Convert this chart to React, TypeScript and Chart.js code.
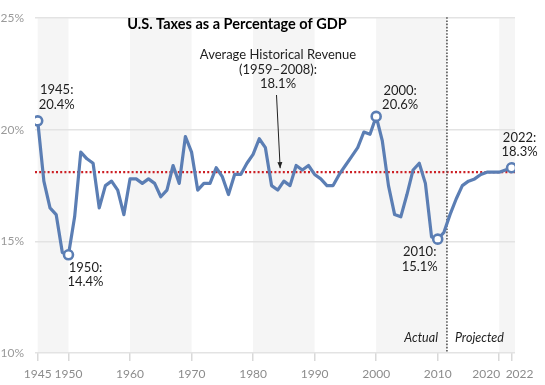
import React, { useEffect, useRef } from "react";
import { Chart, registerables } from "chart.js";

Chart.register(...registerables);

// ---- Data ----
const years = [
  1945, 1946, 1947, 1948, 1949, 1950, 1951, 1952, 1953, 1954,
  1955, 1956, 1957, 1958, 1959, 1960, 1961, 1962, 1963, 1964,
  1965, 1966, 1967, 1968, 1969, 1970, 1971, 1972, 1973, 1974,
  1975, 1976, 1977, 1978, 1979, 1980, 1981, 1982, 1983, 1984,
  1985, 1986, 1987, 1988, 1989, 1990, 1991, 1992, 1993, 1994,
  1995, 1996, 1997, 1998, 1999, 2000, 2001, 2002, 2003, 2004,
  2005, 2006, 2007, 2008, 2009, 2010, 2011, 2012, 2013, 2014,
  2015, 2016, 2017, 2018, 2019, 2020, 2021, 2022,
];
const taxPctOfGdp = [
  20.4, 17.7, 16.5, 16.2, 14.5, 14.4, 16.1, 19.0, 18.7, 18.5,
  16.5, 17.5, 17.7, 17.3, 16.2, 17.8, 17.8, 17.6, 17.8, 17.6,
  17.0, 17.3, 18.4, 17.6, 19.7, 19.0, 17.3, 17.6, 17.6, 18.3,
  17.9, 17.1, 18.0, 18.0, 18.5, 18.9, 19.6, 19.2, 17.5, 17.3,
  17.7, 17.5, 18.4, 18.2, 18.4, 18.0, 17.8, 17.5, 17.5, 18.0,
  18.4, 18.8, 19.2, 19.9, 19.8, 20.6, 19.5, 17.5, 16.2, 16.1,
  17.1, 18.2, 18.5, 17.6, 15.2, 15.1, 15.4, 16.2, 16.9, 17.5,
  17.7, 17.8, 18.0, 18.1, 18.1, 18.1, 18.2, 18.3,
];
const xTickYears = [1945, 1950, 1960, 1970, 1980, 1990, 2000, 2010, 2020, 2022];
const yTickValues = [10, 15, 20, 25];
const averageRevenue = 18.1;
const averageLabel = ["Average Historical Revenue", "(1959–2008):", "18.1%"];
const averageArrowYear = 1984.4;
const highlightYears = [1945, 1950, 2000, 2010, 2022];
const highlightLabels = [
  ["1945:", "20.4%"],
  ["1950:", "14.4%"],
  ["2000:", "20.6%"],
  ["2010:", "15.1%"],
  ["2022:", "18.3%"],
];
const shadedSpans = [
  [1945, 1950],
  [1960, 1970],
  [1980, 1990],
  [2000, 2011.5],
  [2020, 2023],
];
const projectionStartYear = 2011.5;
const titleText = "U.S. Taxes as a Percentage of GDP";
const actualText = "Actual";
const projectedText = "Projected";

// ---- Styles / positions ----
const LINE_COLOR = "#5b7eb4";
const RED = "#cc1f24";
const TEXT_DARK = "#1e1e1e";
const FONT = "Lato, 'Open Sans', sans-serif";
const labelOffsets = [
  [19, -31],
  [17, 13],
  [24, -26],
  [-18, 13],
  [8, -30],
];
// horizontal nudges of x tick labels (keeps 2020 / 2022 apart)
const xLabelNudge: Record<number, number> = { 2020: -13, 2022: 8 };

const decorPlugin = {
  id: "decor",
  beforeDraw(chart: any) {
    const { ctx, chartArea: a, scales } = chart;
    const x = scales.x;
    ctx.save();
    ctx.fillStyle = "#f5f5f5";
    for (const [s, e] of shadedSpans) {
      const x0 = Math.max(a.left, x.getPixelForValue(s));
      const x1 = Math.min(a.right, x.getPixelForValue(e));
      ctx.fillRect(x0, a.top, x1 - x0, a.bottom - a.top);
    }
    ctx.restore();
  },
  beforeDatasetsDraw(chart: any) {
    const { ctx, chartArea: a, scales } = chart;
    const x = scales.x;
    const y = scales.y;
    ctx.save();
    const ya = y.getPixelForValue(averageRevenue);
    ctx.strokeStyle = RED;
    ctx.lineWidth = 2.2;
    ctx.setLineDash([2, 2.2]);
    ctx.beginPath();
    ctx.moveTo(a.left, ya);
    ctx.lineTo(a.right, ya);
    ctx.stroke();
    const xp = x.getPixelForValue(projectionStartYear);
    ctx.strokeStyle = "#555";
    ctx.lineWidth = 1.6;
    ctx.setLineDash([1.6, 1.6]);
    ctx.beginPath();
    ctx.moveTo(xp, a.top - 1);
    ctx.lineTo(xp, a.bottom);
    ctx.stroke();
    ctx.restore();
  },
  afterDraw(chart: any) {
    const { ctx, chartArea: a, scales } = chart;
    const x = scales.x;
    const y = scales.y;
    ctx.save();
    ctx.textAlign = "center";
    ctx.textBaseline = "middle";

    // x tick labels
    ctx.fillStyle = "#8c8c8c";
    ctx.font = `12px ${FONT}`;
    xTickYears.forEach((yr) => {
      ctx.fillText(String(yr), x.getPixelForValue(yr) + (xLabelNudge[yr] || 0), a.bottom + 21);
    });

    // title
    ctx.fillStyle = "#000";
    ctx.font = `bold 14.5px ${FONT}`;
    ctx.fillText(titleText, 237, 24);

    // callouts
    ctx.font = `13px ${FONT}`;
    ctx.fillStyle = TEXT_DARK;
    highlightYears.forEach((yr, i) => {
      const idx = years.indexOf(yr);
      const px = x.getPixelForValue(yr);
      const py = y.getPixelForValue(taxPctOfGdp[idx]);
      const [dx, dy] = labelOffsets[i];
      highlightLabels[i].forEach((t, j) => {
        ctx.fillText(t, px + dx, py + dy + j * 14.5);
      });
    });

    // average label
    const cx = 278;
    averageLabel.forEach((t, j) => ctx.fillText(t, cx, 55 + j * 14.5));

    // arrow
    const tipX = x.getPixelForValue(averageArrowYear);
    const tipY = y.getPixelForValue(averageRevenue) - 4;
    const sx = 276.5;
    const sy = 95;
    ctx.strokeStyle = "#222";
    ctx.fillStyle = "#222";
    ctx.lineWidth = 1;
    ctx.beginPath();
    ctx.moveTo(sx, sy);
    ctx.lineTo(tipX, tipY);
    ctx.stroke();
    const ang = Math.atan2(tipY - sy, tipX - sx);
    const hl = 6;
    const hw = 2.5;
    ctx.beginPath();
    ctx.moveTo(tipX, tipY);
    ctx.lineTo(
      tipX - hl * Math.cos(ang) + hw * Math.sin(ang),
      tipY - hl * Math.sin(ang) - hw * Math.cos(ang)
    );
    ctx.lineTo(
      tipX - hl * Math.cos(ang) - hw * Math.sin(ang),
      tipY - hl * Math.sin(ang) + hw * Math.cos(ang)
    );
    ctx.closePath();
    ctx.fill();

    // actual / projected
    const xp = x.getPixelForValue(projectionStartYear);
    ctx.fillStyle = TEXT_DARK;
    ctx.font = `italic 12.5px ${FONT}`;
    ctx.textAlign = "right";
    ctx.fillText(actualText, xp - 9, a.bottom - 15);
    ctx.textAlign = "left";
    ctx.fillText(projectedText, xp + 8, a.bottom - 15);
    ctx.restore();
  },
};

export default function App() {
  const ref = useRef<HTMLCanvasElement>(null);
  useEffect(() => {
    document.body.style.margin = "0";
    const canvas = ref.current;
    if (!canvas) return;
    const chart = new Chart(canvas, {
      type: "line",
      data: {
        datasets: [
          {
            data: years.map((yr, i) => ({ x: yr, y: taxPctOfGdp[i] })),
            borderColor: LINE_COLOR,
            borderWidth: 3.2,
            borderJoinStyle: "round",
            tension: 0,
            pointRadius: (c: any) => (highlightYears.includes(c.raw?.x) ? 4.5 : 0),
            pointBackgroundColor: "#fff",
            pointBorderColor: LINE_COLOR,
            pointBorderWidth: 2.6,
            pointHoverRadius: 0,
          },
        ],
      },
      options: {
        animation: false,
        responsive: false,
        events: [],
        layout: { padding: { left: 0, right: 30, top: 9, bottom: 0 } },
        plugins: {
          legend: { display: false },
          tooltip: { enabled: false },
          title: { display: false },
        },
        scales: {
          x: {
            type: "linear",
            min: 1944.56,
            max: 2022.56,
            afterBuildTicks: (s: any) => {
              s.ticks = xTickYears.map((v) => ({ value: v }));
            },
            afterFit: (s: any) => {
              s.height = 32;
            },
            grid: {
              drawOnChartArea: false,
              drawTicks: true,
              tickLength: 8,
              color: "#d9d9d9",
              lineWidth: 1.5,
            },
            border: { display: false },
            ticks: {
              display: true,
              color: "rgba(0,0,0,0)",
              font: { family: FONT, size: 12 },
              padding: 5,
              maxRotation: 0,
              autoSkip: false,
              callback: (v: any) => String(v),
            },
          },
          y: {
            min: 10,
            max: 25,
            afterBuildTicks: (s: any) => {
              s.ticks = yTickValues.map((v) => ({ value: v }));
            },
            afterFit: (s: any) => {
              s.width = 35;
            },
            grid: { color: "#e3e3e3", lineWidth: 1.6, drawTicks: false },
            border: { display: false },
            ticks: {
              color: "#9a9a9a",
              font: { family: FONT, size: 12 },
              padding: 11,
              callback: (v: any) => `${v}%`,
            },
          },
        },
      },
      plugins: [decorPlugin],
    } as any);
    return () => chart.destroy();
  }, []);
  return (
    <div style={{ position: "fixed", left: 0, top: 0, width: 545, height: 385 }}>
      <canvas ref={ref} width={545} height={385} style={{ width: 545, height: 385 }} />
    </div>
  );
}
